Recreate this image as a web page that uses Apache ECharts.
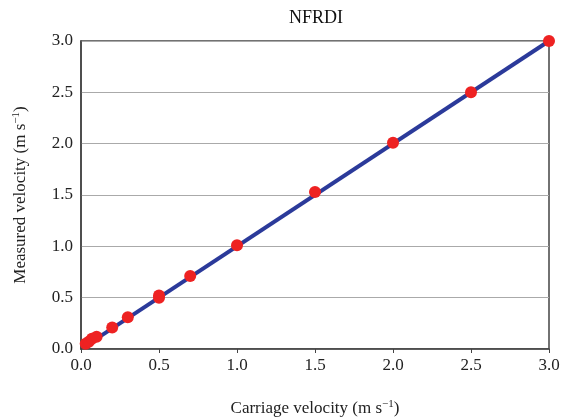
<!DOCTYPE html>
<html>
<head>
<meta charset="utf-8">
<script src="https://cdn.jsdelivr.net/npm/echarts@6/dist/echarts.min.js"></script>
<style>html,body{margin:0;padding:0;background:#fff}#chart{width:567px;height:420px}</style>
</head>
<body>
<div id="chart"></div>
<script>
// carriage velocity vs measured velocity (m/s)
const carriage = [0.03, 0.05, 0.07, 0.1, 0.2, 0.3, 0.5, 0.5, 0.7, 1.0, 1.5, 2.0, 2.5, 3.0]
const measured = [0.05, 0.07, 0.1, 0.12, 0.21, 0.31, 0.5, 0.52, 0.71, 1.01, 1.53, 2.01, 2.5, 3.0]
const fitLine = [[0.02, 0.02], [3.0, 3.0]]

const serif = '"Liberation Serif", "DejaVu Serif", serif'
const chart = echarts.init(document.getElementById('chart'))

const unitRich = {
  n: { fontFamily: serif, fontSize: 17, color: '#222' },
  sup: { fontFamily: serif, fontSize: 11, color: '#222', verticalAlign: 'top', padding: [0, 0, 9, 0] },
}

chart.setOption({
  animation: false,
  title: {
    text: 'NFRDI', left: 311, top: 4, textAlign: 'center',
    textStyle: { fontFamily: serif, fontSize: 18, fontWeight: 'normal', color: '#111' },
  },
  grid: {
    left: 81, right: 18, top: 41, bottom: 71, outerBoundsMode: 'none',
    show: true, borderColor: '#444', borderWidth: 1.5,
  },
  xAxis: {
    type: 'value', min: 0, max: 3, interval: 0.5,
    name: '{n|Carriage velocity (m s}{sup|−1}{n|)}',
    nameLocation: 'middle', nameGap: 50,
    nameTextStyle: { fontSize: 17, fontFamily: serif, rich: unitRich },
    axisLine: { show: true, lineStyle: { color: '#444', width: 1.5 } },
    axisTick: { show: true, length: 4, lineStyle: { color: '#444' } },
    axisLabel: { fontFamily: serif, fontSize: 17, color: '#222', margin: 8, formatter: v => v.toFixed(1) },
    splitLine: { show: false },
  },
  yAxis: {
    type: 'value', min: 0, max: 3, interval: 0.5,
    name: '{n|Measured velocity (m s}{sup|−1}{n|)}',
    nameLocation: 'middle', nameGap: 50,
    nameTextStyle: { fontSize: 17, fontFamily: serif, rich: unitRich },
    axisLine: { show: true, lineStyle: { color: '#444', width: 1.5 } },
    axisTick: { show: false },
    axisLabel: { fontFamily: serif, fontSize: 17, color: '#222', margin: 8, formatter: v => v.toFixed(1) },
    splitLine: { show: true, lineStyle: { color: '#aaa', width: 1 } },
  },
  series: [
    {
      type: 'line', data: fitLine, symbol: 'none', z: 2,
      lineStyle: { color: '#2b3a9a', width: 4 },
    },
    {
      type: 'scatter', data: carriage.map((x, i) => [x, measured[i]]),
      symbolSize: 12, z: 3,
      itemStyle: { color: '#ee2222', opacity: 1 },
    },
  ],
})
</script>
</body>
</html>
